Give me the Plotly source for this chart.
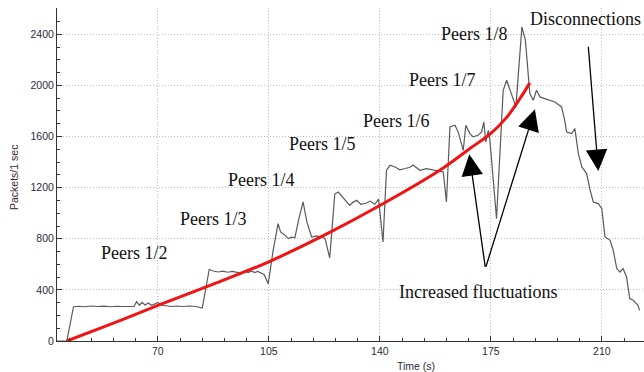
import plotly.graph_objects as go

# Measured traffic (gray line)
time_s = [38.2, 41.3, 43.4, 45, 47, 49, 51, 53, 55, 57, 59, 61, 62.5, 63.3, 64.2, 65, 66, 67, 68, 69,
          70, 71, 72.5, 74, 76, 78, 80, 82, 84, 86.2, 87.5, 89, 90.5, 92, 93.5, 95, 96.5, 97.5, 98.5,
          99.5, 100.5, 101.5, 102.5, 103.5, 104.8, 106.3, 107.9, 108.7, 110, 111.1, 112.2, 113.2,
          114.5, 115.8, 117, 118.5, 120, 121.5, 122.7, 124.2, 125.8, 126.9, 128.5, 130.5, 131.5,
          132.7, 134, 135.8, 137, 138.4, 139.6, 141, 142.1, 143.2, 145, 146.3, 148, 149.5, 150.5,
          152.6, 154.7, 156.5, 158, 160, 161, 162.1, 163.7, 164.7, 166.3, 167.1, 168.4, 169.4, 171,
          172.1, 172.8, 173.4, 174.2, 174.7, 176.8, 178.9, 180, 181, 182, 182.9, 184.8, 185.9, 187.3,
          188.4, 189.4, 190.5, 192, 193.6, 195.2, 197.3, 198.3, 198.9, 200.5, 201.5, 202.6, 203.7,
          205.2, 206.2, 207.3, 208.9, 210, 211, 212.6, 213.6, 214.7, 215.7, 216.7, 217.8, 218.8,
          219.9, 221.4, 221.9]
packets = [0, 0, 268, 272, 268, 274, 270, 273, 268, 272, 270, 273, 270, 308, 280, 302, 282, 298, 280, 290,
           302, 282, 276, 270, 274, 270, 274, 270, 258, 560, 548, 540, 546, 538, 545, 538, 530, 548, 535,
           548, 535, 545, 530, 520, 449, 700, 919, 853, 830, 801, 812, 808,
           960, 1088, 930, 814, 822, 812, 805, 650, 1150, 1166, 1120, 1062, 1085,
           1101, 1070, 1080, 1095, 1070, 1110, 775, 1336, 1375, 1360, 1340, 1350, 1360, 1378,
           1336, 1349, 1340, 1336, 1323, 1088, 1675, 1688, 1636, 1492, 1688, 1623, 1597, 1610,
           1636, 1714, 1557, 1649, 1571, 958, 1962, 2040, 1962, 1884, 1832, 2458, 2353, 1936,
           1884, 1962, 1910, 1897, 1884, 1871, 1832, 1727, 1636, 1623, 1662, 1467, 1362,
           1310, 1193, 1088, 1075, 1036, 814, 788, 710, 567, 540, 567, 501, 332,
           319, 279, 240]

# Trend curve (red)
trend_t = [41.3, 56, 70, 87.5, 105, 124.2, 140, 158.9, 168.4, 175, 180, 184, 187.3]
trend_v = [0, 140, 278, 445, 620, 850, 1060, 1336, 1506, 1625, 1750, 1890, 2020]

x_ticks = [70, 105, 140, 175, 210]
y_ticks = [0, 400, 800, 1200, 1600, 2000, 2400]

labels = ["Peers 1/2", "Peers 1/3", "Peers 1/4", "Peers 1/5", "Peers 1/6", "Peers 1/7", "Peers 1/8",
          "Disconnections", "Increased fluctuations"]
label_t = [62.7, 87.5, 102.7, 121.9, 145.3, 159.8, 170.0, 204.7, 171.0]
label_v = [686, 956, 1258, 1540, 1720, 2041, 2400, 2518, 381]

# arrows: (tail_t, tail_v, tip_t, tip_v)
arrows = [(173.3, 569, 168.2, 1461), (173.3, 569, 188.9, 1813), (205.7, 2314, 208.9, 1330)]

fig = go.Figure()
fig.add_trace(go.Scatter(x=time_s, y=packets, mode="lines",
                         line=dict(color="#5a5a5a", width=1.2), hoverinfo="skip"))
fig.add_trace(go.Scatter(x=trend_t, y=trend_v, mode="lines",
                         line=dict(color="#f01414", width=3, shape="spline"), hoverinfo="skip"))

serif = "Liberation Serif, Times New Roman, serif"
for txt, t, v in zip(labels, label_t, label_v):
    fig.add_annotation(x=t, y=v, xref="x", yref="y", text=txt, showarrow=False,
                       font=dict(family=serif, size=18, color="#111111"),
                       xanchor="center", yanchor="middle")

for at, av, tt, tv in arrows:
    fig.add_annotation(x=tt, y=tv, ax=at, ay=av, xref="x", yref="y", axref="x", ayref="y",
                       text="", showarrow=True, arrowhead=2, arrowsize=3.3, arrowwidth=1.3,
                       arrowcolor="#000000", standoff=0)

tick_font = dict(family="Liberation Sans, Arial, sans-serif", size=10.5, color="#2a2a3a")
fig.add_annotation(x=0.611, y=-0.075, xref="paper", yref="paper", text="Time (s)", showarrow=False,
                   font=dict(family="Liberation Sans, Arial, sans-serif", size=10.5, color="#2a2a3a"),
                   xanchor="center", yanchor="middle")
fig.add_annotation(x=-0.073, y=0.49, xref="paper", yref="paper", text="Packets/1 sec", showarrow=False,
                   textangle=-90,
                   font=dict(family="Liberation Sans, Arial, sans-serif", size=10.5, color="#3a2a30"),
                   xanchor="center", yanchor="middle")

grid_dash = "1px,2px"
fig.update_xaxes(range=[38.2, 223.3], tickvals=x_ticks, ticktext=[str(v) for v in x_ticks],
                 showgrid=True, gridcolor="#bcbcbc", griddash=grid_dash, gridwidth=1,
                 showline=True, linecolor="#333333", linewidth=1,
                 ticks="inside", ticklen=5, tickcolor="#333333",
                 minor=dict(dtick=7, tick0=0, ticks="inside", ticklen=3, tickcolor="#333333", showgrid=False),
                 tickfont=tick_font, zeroline=False)
fig.update_yaxes(range=[0, 2606], tickvals=y_ticks, ticktext=[str(v) for v in y_ticks],
                 showgrid=True, gridcolor="#bcbcbc", griddash=grid_dash, gridwidth=1,
                 showline=True, linecolor="#333333", linewidth=1,
                 ticks="inside", ticklen=5, tickcolor="#333333",
                 minor=dict(dtick=100, tick0=0, ticks="inside", ticklen=3, tickcolor="#333333", showgrid=False),
                 tickfont=tick_font, zeroline=False)

fig.update_layout(width=644, height=372, margin=dict(l=57, r=0, t=8, b=31),
                  paper_bgcolor="white", plot_bgcolor="white", showlegend=False)

fig.write_html("out.html", config={"displayModeBar": False},
               post_script="document.body.style.margin='0';document.body.style.padding='0';"
                           "document.documentElement.style.overflow='hidden';")
